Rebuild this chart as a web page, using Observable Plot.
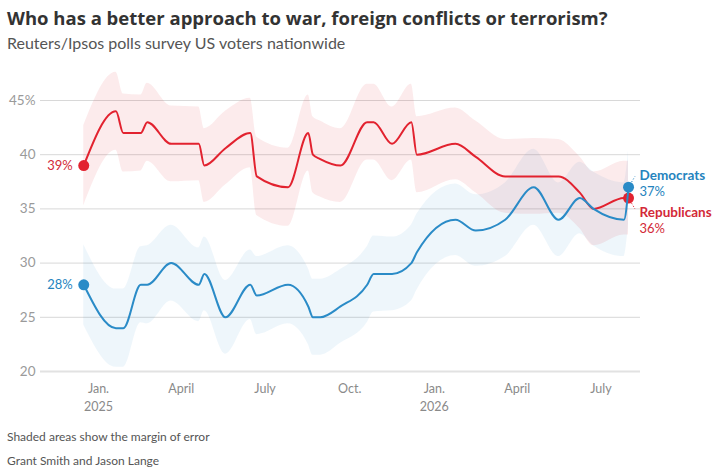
<!DOCTYPE html>
<html>
<head>
<meta charset="utf-8">
<script src="https://cdn.jsdelivr.net/npm/d3@7"></script>
<script src="https://cdn.jsdelivr.net/npm/@observablehq/plot@0.6"></script>
<style>
  body { margin: 0; background: #fff; font-family: Lato, sans-serif; width: 728px; height: 475px; position: relative; overflow: hidden; }
  .t { position: absolute; left: 7px; white-space: nowrap; }
  #title { top: 5px; font-family: 'Open Sans', sans-serif; font-size: 18.5px; font-weight: bold; color: #333; }
  #subtitle { top: 33px; font-size: 16px; color: #555; }
  #note { top: 429px; font-size: 12px; color: #555; }
  #credit { top: 453px; font-size: 12px; color: #555; }
  #chart_p1 { position: absolute; left: 0; top: 62px; }
</style>
</head>
<body>
<div class="t" id="title">Who has a better approach to war, foreign conflicts or terrorism?</div>
<div class="t" id="subtitle">Reuters/Ipsos polls survey US voters nationwide</div>
<div id="chart_p1"></div>
<div class="t" id="note">Shaded areas show the margin of error</div>
<div class="t" id="credit">Grant Smith and Jason Lange</div>
<script>
// fechas de cada encuesta
const dates = [
  '2024-12-16', '2025-01-20', '2025-01-28', '2025-02-16', '2025-02-23', '2025-03-21',
  '2025-04-20', '2025-04-26', '2025-05-19', '2025-06-15', '2025-06-22', '2025-07-26',
  '2025-08-17', '2025-08-22', '2025-08-30', '2025-09-21', '2025-10-20', '2025-10-27',
  '2025-11-16', '2025-12-07', '2025-12-13', '2026-01-24', '2026-02-15', '2026-03-19',
  '2026-04-19', '2026-05-16', '2026-06-08', '2026-06-23', '2026-07-26', '2026-07-31'
]
const republicans = [
  39, 44, 42, 42, 43, 41,
  41, 39, 40.6, 42, 38, 37,
  42, 40, 39.6, 39, 43, 43,
  41, 43, 40, 41, 39.8, 38,
  38, 38, 36.5, 35, 36, 36
]
const democrats = [
  28, 24, 24, 28, 28, 30,
  28, 29, 25, 28, 27, 28,
  26, 25, 25, 26, 28, 29,
  29, 30, 31, 34, 33, 34,
  37, 34, 36, 35, 34, 37
]
const moe = [
  3.7, 3.6, 3.6, 3.5, 3.6, 3.5,
  3.4, 3.4, 3.4, 3.2, 3.6, 3.6,
  3.5, 3.5, 3.5, 3.4, 3.5, 3.5,
  3.4, 3.5, 3.5, 3.3, 3.3, 3.4,
  3.5, 3.4, 3.3, 3.4, 3.4, 3.4
]

const xTicks = ['2025-01-01', '2025-04-01', '2025-07-01', '2025-10-01', '2026-01-01', '2026-04-01', '2026-07-01']
const xTickLabels = ['Jan.\n2025', 'April', 'July', 'Oct.', 'Jan.\n2026', 'April', 'July']
const yTicks = [20, 25, 30, 35, 40, 45]

const RED = '#e2222f'
const BLUE = '#2a8bc7'

const rows = dates.map((d, i) => ({
  date: new Date(d),
  rep: republicans[i],
  dem: democrats[i],
  moe: moe[i]
}))
const first = rows[0]
const last = rows[rows.length - 1]
const tickDates = xTicks.map(d => new Date(d))
const tickLabel = new Map(tickDates.map((d, i) => [+d, xTickLabels[i]]))

let chart = Plot.plot({
  width: 728,
  height: 354,
  marginLeft: 40,
  marginRight: 88,
  marginTop: 38,
  marginBottom: 45,
  style: { fontFamily: 'Lato, sans-serif', background: 'white', overflow: 'visible' },
  x: { type: 'utc', domain: [new Date('2024-10-30'), new Date('2026-08-13')] },
  y: { domain: [20, 45] },
  marks: [
    Plot.ruleY(yTicks.filter(v => v > 20), { stroke: '#d8d8d8', strokeWidth: 1 }),
    Plot.ruleY([20], { stroke: '#e2e2e2', strokeWidth: 2 }),
    Plot.axisY(yTicks, {
      tickSize: 0, tickPadding: 5, fontSize: 13.5, color: '#9a9a9a',
      tickFormat: d => d === 45 ? '45%' : d, label: null
    }),
    Plot.axisX(tickDates, {
      tickSize: 0, tickPadding: 9, fontSize: 12.5, lineHeight: 1.45, color: '#8a8a8a',
      tickFormat: d => tickLabel.get(+d), label: null
    }),

    // bandas de margen de error
    Plot.areaY(rows, {
      x: 'date', y1: d => d.dem - d.moe, y2: d => d.dem + d.moe,
      curve: 'monotone-x', fill: BLUE, fillOpacity: 0.08
    }),
    Plot.areaY(rows, {
      x: 'date', y1: d => d.rep - d.moe, y2: d => d.rep + d.moe,
      curve: 'monotone-x', fill: RED, fillOpacity: 0.09
    }),

    // líneas guía de las etiquetas finales
    Plot.link([last], {
      x1: 'date', y1: 'dem', x2: d => new Date(+d.date + 7 * 864e5), y2: d => d.dem + 1,
      stroke: BLUE, strokeWidth: 1, strokeDasharray: '1.2,1.8'
    }),
    Plot.link([last], {
      x1: 'date', y1: 'rep', x2: d => new Date(+d.date + 7 * 864e5), y2: d => d.rep - 1,
      stroke: RED, strokeWidth: 1, strokeDasharray: '1.2,1.8'
    }),

    Plot.line(rows, { x: 'date', y: 'rep', stroke: RED, strokeWidth: 2, curve: 'monotone-x' }),
    Plot.dot([first, last], { x: 'date', y: 'rep', r: 5.5, fill: RED }),
    Plot.line(rows, { x: 'date', y: 'dem', stroke: BLUE, strokeWidth: 2, curve: 'monotone-x' }),
    Plot.dot([first, last], { x: 'date', y: 'dem', r: 5.5, fill: BLUE }),

    // etiquetas iniciales
    Plot.text([first], { x: 'date', y: 'rep', text: d => d.rep + '%', textAnchor: 'end', dx: -11, fill: '#d32a38', fontSize: 13 }),
    Plot.text([first], { x: 'date', y: 'dem', text: d => d.dem + '%', textAnchor: 'end', dx: -11, fill: '#2584be', fontSize: 13 }),

    // etiquetas finales
    Plot.text([last], { x: 'date', y: 'dem', text: () => 'Democrats', textAnchor: 'start', dx: 11, dy: -12, fill: '#2584be', fontSize: 13.5, fontWeight: 'bold' }),
    Plot.text([last], { x: 'date', y: 'dem', text: d => d.dem + '%', textAnchor: 'start', dx: 11, dy: 4.5, fill: '#2584be', fontSize: 13 }),
    Plot.text([last], { x: 'date', y: 'rep', text: () => 'Republicans', textAnchor: 'start', dx: 11, dy: 15, fill: '#d32a38', fontSize: 13.5, fontWeight: 'bold' }),
    Plot.text([last], { x: 'date', y: 'rep', text: d => d.rep + '%', textAnchor: 'start', dx: 11, dy: 31, fill: '#d32a38', fontSize: 13 })
  ]
})

d3.select('#chart_p1').append(() => chart)
</script>
</body>
</html>
